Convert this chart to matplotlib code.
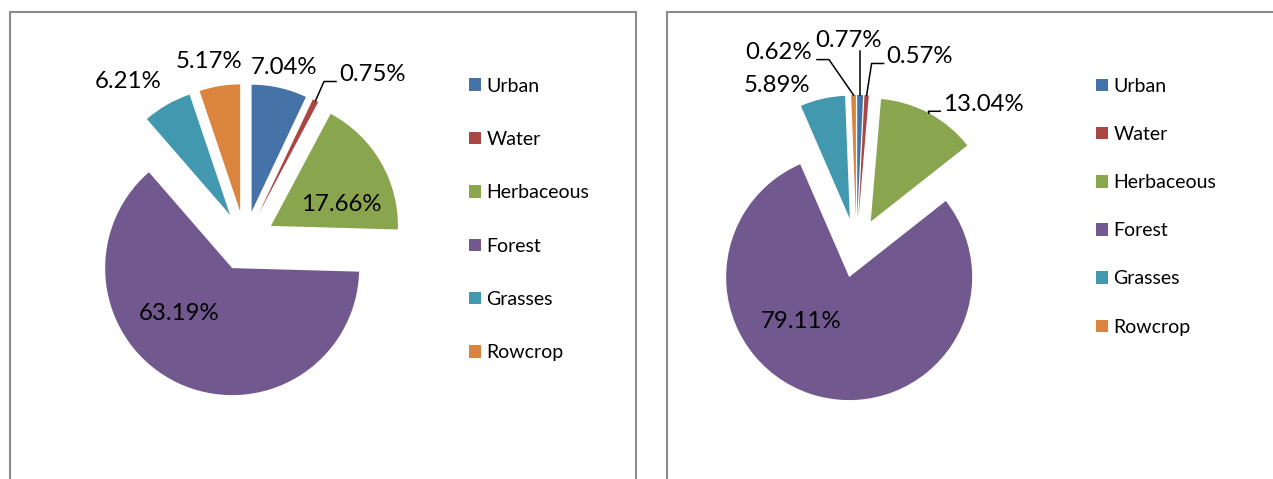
import numpy as np
import matplotlib.pyplot as plt
from matplotlib.patches import Rectangle, Patch

plt.rcParams['font.family'] = ['Lato', 'DejaVu Sans']

categories = ['Urban', 'Water', 'Herbaceous', 'Forest', 'Grasses', 'Rowcrop']
share_left = [7.04, 0.75, 17.66, 63.19, 6.21, 5.17]
share_right = [0.77, 0.57, 13.04, 79.11, 5.89, 0.62]
colors = ['#4572A7', '#AA4643', '#89A54E', '#71588F', '#4198AF', '#DB843D']

W, H = 1273, 479

# layout of each panel, in image pixels (y measured from the top)
panels = [
    dict(values=share_left, center=(245, 241), radius=127, explode=30,
         frame=(9.5, 11.5, 636),
         # (distance in radii, angle shift in degrees) from the wedge middle
         label_pos=[(1.40, 0), (1.65, 10.7), (0.81, 9.1), (0.77, 17.1), (1.56, -6.5), (1.44, -2.1)],
         leaders=[None, 'right', None, None, None, None],
         legend_xy=(469, 77.5), legend_spacing=1.87),
    dict(values=share_right, center=(856.5, 248), radius=123, explode=30,
         frame=(667, 11.5, 1290),
         label_pos=[(1.69, -3.5), (1.64, 14.5), (1.56, 13.2), (0.75, 22.7), (1.47, -13.2), (1.71, -20.6)],
         leaders=['up', 'right', 'right', None, None, 'left'],
         legend_xy=(1096, 78), legend_spacing=1.60),
]

fig = plt.figure(figsize=(W / 100, H / 100), dpi=100)
ax = fig.add_axes([0, 0, 1, 1])

texts = []
for p in panels:
    vals = np.array(p['values'])
    cx, cy = p['center'][0], H - p['center'][1]
    r, e = p['radius'], p['explode']
    ax.pie(vals, colors=colors, startangle=90, counterclock=False, radius=r,
           center=(cx, cy), explode=[e] * len(vals), wedgeprops=dict(linewidth=0))

    bounds = np.concatenate([[0], np.cumsum(vals)]) / vals.sum() * 360
    mids = (bounds[:-1] + bounds[1:]) / 2
    for v, m, (dist, shift), lead in zip(vals, mids, p['label_pos'], p['leaders']):
        a = np.radians(m + shift)
        tx, ty = cx + dist * r * np.sin(a), cy + dist * r * np.cos(a)
        t = ax.text(tx, ty, f'{v:.2f}%', ha='center', va='center', fontsize=17.3, color='black')
        am = np.radians(m)
        tip = (cx + (r + e) * np.sin(am), cy + (r + e) * np.cos(am))
        texts.append((t, tip, lead, ty))

    # frame around the panel
    x0, top, x1 = p['frame']
    ax.add_patch(Rectangle((x0, -20), x1 - x0, H - top + 20, fill=False,
                           edgecolor='#8c8c8c', linewidth=1.5))

    handles = [Patch(facecolor=c, edgecolor='none') for c in colors]
    lx, ly = p['legend_xy']
    fig.legend(handles, categories, loc='upper left', bbox_to_anchor=(lx / W, 1 - ly / H),
               frameon=False, fontsize=14, handlelength=0.6, handleheight=0.6,
               handletextpad=0.3, labelspacing=p['legend_spacing'], borderpad=0,
               borderaxespad=0)

ax.set_xlim(0, W)
ax.set_ylim(0, H)
ax.set_aspect('equal')
ax.axis('off')

# leader lines for the small slices
fig.canvas.draw()
rend = fig.canvas.get_renderer()
for t, tip, lead, ty in texts:
    if lead is None:
        continue
    bb = t.get_window_extent(rend)
    if lead == 'up':
        xs, ys = [tip[0], tip[0]], [tip[1], bb.y0]
    elif lead == 'right':
        end = (bb.x0 - 3, ty - 7)
        xs, ys = [tip[0], end[0] - 12, end[0]], [tip[1], end[1], end[1]]
    else:
        end = (bb.x1 + 5, ty - 7)
        xs, ys = [tip[0], end[0] + 12, end[0]], [tip[1], end[1], end[1]]
    ax.plot(xs, ys, color='black', linewidth=1.1)

fig.savefig('out.png', dpi=100)
